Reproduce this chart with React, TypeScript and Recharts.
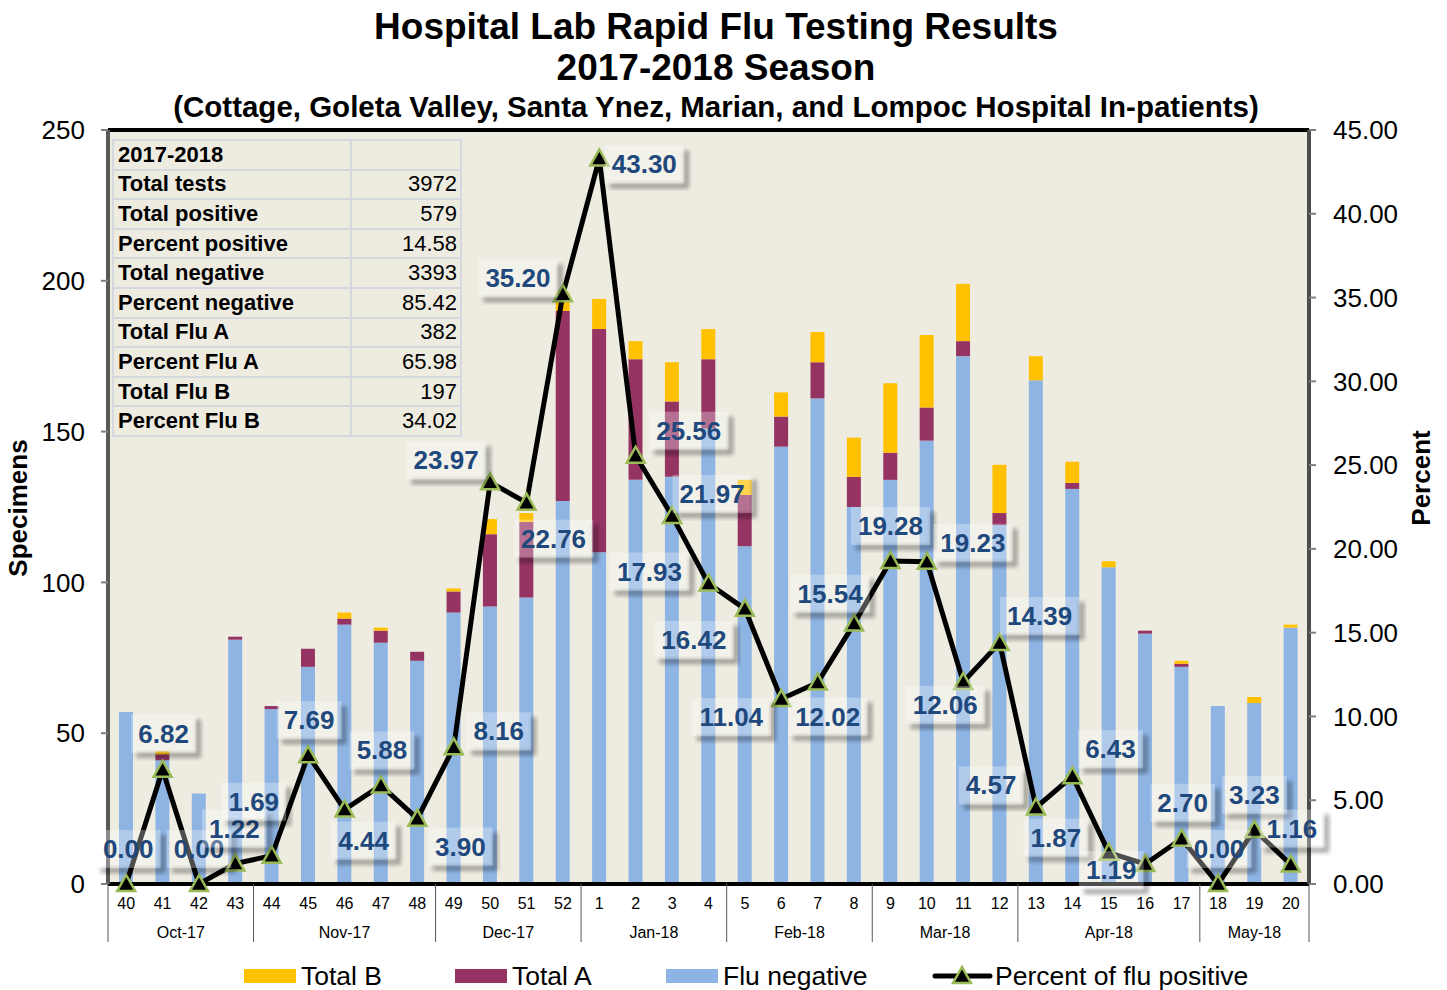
import React from "react";
import { ComposedChart, Bar, Line, XAxis, YAxis, CartesianGrid, ReferenceLine, LabelList } from "recharts";

const weeks = [
  "40", "41", "42", "43", "44", "45", "46", "47", "48", "49", "50", "51", "52",
  "1", "2", "3", "4", "5", "6", "7", "8", "9", "10", "11", "12", "13", "14", "15", "16", "17", "18", "19", "20",
];
const monthNames = ["Oct-17", "Nov-17", "Dec-17", "Jan-18", "Feb-18", "Mar-18", "Apr-18", "May-18"];
const monthWeekCounts = [4, 5, 4, 4, 4, 4, 5, 3];

const fluNegative = [57, 41, 30, 81, 58, 72, 86, 80, 74, 90, 92, 95, 127, 110, 134, 135, 151, 112, 145, 161, 125, 134, 147, 175, 119, 167, 131, 105, 83, 72, 59, 60, 85];
const totalA = [0, 2, 0, 1, 1, 6, 2, 4, 3, 7, 24, 25, 63, 74, 40, 25, 23, 17, 10, 12, 10, 9, 11, 5, 4, 0, 2, 0, 1, 1, 0, 0, 0];
const totalB = [0, 1, 0, 0, 0, 0, 2, 1, 0, 1, 5, 3, 6, 10, 6, 13, 10, 5, 8, 10, 13, 23, 24, 19, 16, 8, 7, 2, 0, 1, 0, 2, 1];
const pctPositive = [0.0, 6.82, 0.0, 1.22, 1.69, 7.69, 4.44, 5.88, 3.9, 8.16, 23.97, 22.76, 35.2, 43.3, 25.56, 21.97, 17.93, 16.42, 11.04, 12.02, 15.54, 19.28, 19.23, 12.06, 14.39, 4.57, 6.43, 1.87, 1.19, 2.7, 0.0, 3.23, 1.16];

const leftTicks = [0, 50, 100, 150, 200, 250];
const rightTicks = [0, 5, 10, 15, 20, 25, 30, 35, 40, 45];

const summaryLabels = ["2017-2018", "Total tests", "Total positive", "Percent positive", "Total negative", "Percent negative", "Total Flu A", "Percent Flu A", "Total Flu B", "Percent Flu B"];
const summaryValues = ["", "3972", "579", "14.58", "3393", "85.42", "382", "65.98", "197", "34.02"];

// layout
const W = 1447;
const H = 990;
const M = { top: 130, right: 38, bottom: 36, left: 48 };
const LEFT_AXIS_W = 60;
const RIGHT_AXIS_W = 100;
const PLOT_L = M.left + LEFT_AXIS_W;
const PLOT_R = W - M.right - RIGHT_AXIS_W;
const PLOT_B = H - M.bottom - 70;
const BAND = (PLOT_R - PLOT_L) / weeks.length;
const FONT = "'Liberation Sans', Arial, sans-serif";

const BLUE = "#8EB4E3";
const MAROON = "#953463";
const GOLD = "#FFC000";
const LABEL_BLUE = "#1F497D";

// where Excel's data labels were dragged to, relative to each point
const labelShift: [number, number][] = [
  [2, -35], [1, -36], [0, -35], [-1, -35], [-18, -54], [1, -35], [19, 31], [1, -35], [43, 28], [45, -16],
  [-44, -22], [27, 36], [-45, -16], [45, 6], [53, -25], [40, -22], [-59, -12], [-51, 31], [-50, 18], [10, 34],
  [-24, -30], [0, -35], [46, -19], [-18, 23], [40, -27], [-45, -22], [38, -27], [-53, -15], [-34, 6], [1, -36],
  [1, -35], [0, -35], [1, -36],
];

const rows = weeks.map((w, i) => ({
  week: w,
  neg: fluNegative[i],
  a: totalA[i],
  b: totalB[i],
  pct: pctPositive[i],
}));

const monthStart: Record<number, number> = {};
let acc = 0;
monthWeekCounts.forEach((c, g) => {
  monthStart[acc] = g;
  acc += c;
});

function WeekTick({ x, y, payload }: any) {
  return (
    <text x={x} y={y} dy={25} textAnchor="middle" fontSize={16} fontFamily={FONT} fill="#000">
      {payload.value}
    </text>
  );
}

function MonthTick({ x, y, index }: any) {
  const g = monthStart[index];
  if (g === undefined) return <g />;
  const count = monthWeekCounts[g];
  const left = x - BAND / 2;
  const right = x + (count - 0.5) * BAND;
  const last = g === monthWeekCounts.length - 1;
  return (
    <g>
      <line x1={left} x2={left} y1={PLOT_B} y2={PLOT_B + 58} stroke="#595959" strokeWidth={1} />
      {last && <line x1={right} x2={right} y1={PLOT_B} y2={PLOT_B + 58} stroke="#595959" strokeWidth={1} />}
      <text x={(left + right) / 2} y={y} dy={24} textAnchor="middle" fontSize={16} fontFamily={FONT} fill="#000">
        {monthNames[g]}
      </text>
    </g>
  );
}

function TriangleDot({ cx, cy }: any) {
  if (cx == null || cy == null) return <g />;
  return (
    <polygon
      points={`${cx},${cy - 9} ${cx - 9},${cy + 7} ${cx + 9},${cy + 7}`}
      fill="#000"
      stroke="#9BBB59"
      strokeWidth={2.5}
    />
  );
}

function PctLabel(props: any) {
  const { index, value } = props;
  const px = props.x ?? props.viewBox?.x;
  const py = props.y ?? props.viewBox?.y;
  if (px == null || py == null) return <g />;
  const [dx, dy] = labelShift[index] || [0, -35];
  const text = Number(value).toFixed(2);
  const tw = text.split("").reduce((s, ch) => s + (ch === "." ? 7.2 : 14.5), 0);
  const w = tw + 14;
  const h = 38;
  const cx = px + dx;
  const cy = py + dy;
  const fid = `lblshadow${index}`;
  return (
    <g>
      <defs>
        <filter id={fid} x="-50%" y="-50%" width="200%" height="200%">
          <feGaussianBlur stdDeviation={2} />
        </filter>
      </defs>
      <rect x={cx - w / 2 + 5} y={cy + h / 2} width={w} height={5} fill="#000" opacity={0.35} filter={`url(#${fid})`} />
      <rect x={cx + w / 2} y={cy - h / 2 + 5} width={5} height={h - 5} fill="#000" opacity={0.35} filter={`url(#${fid})`} />
      <rect x={cx - w / 2} y={cy - h / 2} width={w} height={h} fill="#FFFFFF" fillOpacity={0.3} />
      <text x={cx} y={cy} dy={9} textAnchor="middle" fontSize={26} fontWeight="bold" fontFamily={FONT} fill={LABEL_BLUE}>
        {text}
      </text>
    </g>
  );
}

function SummaryTable() {
  return (
    <table
      style={{
        position: "absolute",
        left: 112,
        top: 139,
        width: 350,
        borderCollapse: "collapse",
        fontFamily: FONT,
        fontSize: 22,
        background: "#EEECE1",
      }}
    >
      <tbody>
        {summaryLabels.map((lab, i) => (
          <tr key={lab} style={{ height: 29.6 }}>
            <td style={{ border: "2px solid #D5D8DE", fontWeight: "bold", padding: "0 4px", width: 228, lineHeight: "24px" }}>{lab}</td>
            <td style={{ border: "2px solid #D5D8DE", textAlign: "right", padding: "0 3px", lineHeight: "24px" }}>{summaryValues[i]}</td>
          </tr>
        ))}
      </tbody>
    </table>
  );
}

function LegendBar() {
  const item = (left: number, color: string, textLeft: number, label: string) => (
    <React.Fragment key={label}>
      <div style={{ position: "absolute", left, top: 969, width: 52, height: 14, background: color }} />
      <div style={{ position: "absolute", left: textLeft, top: 962, fontSize: 26.5, lineHeight: "28px", fontFamily: FONT, whiteSpace: "nowrap" }}>{label}</div>
    </React.Fragment>
  );
  return (
    <>
      {item(244, GOLD, 301, "Total B")}
      {item(455, MAROON, 512, "Total A")}
      {item(666, BLUE, 723, "Flu negative")}
      <svg style={{ position: "absolute", left: 930, top: 960 }} width={64} height={30}>
        <line x1={5} x2={60} y1={16} y2={16} stroke="#000" strokeWidth={5} strokeLinecap="round" />
        <polygon points="32,7 23,23 41,23" fill="#000" stroke="#9BBB59" strokeWidth={2.5} />
      </svg>
      <div style={{ position: "absolute", left: 995, top: 962, fontSize: 26.5, lineHeight: "28px", fontFamily: FONT, whiteSpace: "nowrap" }}>
        Percent of flu positive
      </div>
    </>
  );
}

export default function App() {
  return (
    <div style={{ position: "absolute", left: 0, top: 0, width: W, height: H, background: "#fff", fontFamily: FONT }}>
      <div style={{ position: "absolute", left: 0, width: 1432, top: 8, textAlign: "center", fontWeight: "bold", fontSize: 37, lineHeight: "38px" }}>
        Hospital Lab Rapid Flu Testing Results
      </div>
      <div style={{ position: "absolute", left: 0, width: 1432, top: 49, textAlign: "center", fontWeight: "bold", fontSize: 37, lineHeight: "38px" }}>
        2017-2018 Season
      </div>
      <div style={{ position: "absolute", left: 0, width: 1432, top: 92, textAlign: "center", fontWeight: "bold", fontSize: 29.5, lineHeight: "30px" }}>
        (Cottage, Goleta Valley, Santa Ynez, Marian, and Lompoc Hospital In-patients)
      </div>

      <ComposedChart width={W} height={H} data={rows} margin={M} barSize={14}>
        <CartesianGrid horizontal={false} vertical={false} fill="#EEECE1" stroke="none" />
        <XAxis
          dataKey="week"
          interval={0}
          height={30}
          tickSize={0}
          tickMargin={0}
          axisLine={{ stroke: "#000", strokeWidth: 4 }}
          tickLine={false}
          tick={(p: any) => <WeekTick {...p} />}
        />
        <XAxis
          xAxisId="month"
          dataKey="week"
          interval={0}
          height={40}
          tickSize={0}
          tickMargin={0}
          axisLine={false}
          tickLine={false}
          tick={(p: any) => <MonthTick {...p} />}
        />
        <YAxis
          yAxisId="left"
          width={LEFT_AXIS_W}
          domain={[0, 250]}
          ticks={leftTicks}
          tickSize={7}
          tickMargin={16}
          axisLine={{ stroke: "#595959", strokeWidth: 4 }}
          tickLine={{ stroke: "#808080", strokeWidth: 2 }}
          tick={{ fontSize: 26, fill: "#000", fontFamily: FONT }}
        />
        <YAxis
          yAxisId="right"
          orientation="right"
          width={RIGHT_AXIS_W}
          domain={[0, 45]}
          ticks={rightTicks}
          tickFormatter={(v: number) => v.toFixed(2)}
          tickSize={7}
          tickMargin={17}
          axisLine={{ stroke: "#4D4D4D", strokeWidth: 4 }}
          tickLine={{ stroke: "#808080", strokeWidth: 2 }}
          tick={{ fontSize: 26, fill: "#000", fontFamily: FONT }}
        />
        <ReferenceLine yAxisId="left" y={250} stroke="#000" strokeWidth={4} />
        <Bar yAxisId="left" dataKey="neg" stackId="s" fill={BLUE} isAnimationActive={false} />
        <Bar yAxisId="left" dataKey="a" stackId="s" fill={MAROON} isAnimationActive={false} />
        <Bar yAxisId="left" dataKey="b" stackId="s" fill={GOLD} isAnimationActive={false} />
        <Line
          yAxisId="right"
          dataKey="pct"
          type="linear"
          stroke="#000"
          strokeWidth={5}
          dot={(p: any) => <TriangleDot key={`d${p.index}`} {...p} />}
          activeDot={false}
          isAnimationActive={false}
        >
          <LabelList dataKey="pct" content={(p: any) => <PctLabel {...p} />} />
        </Line>
      </ComposedChart>

      <SummaryTable />

      <div style={{ position: "absolute", left: 18, top: 508, transform: "translate(-50%, -50%) rotate(-90deg)", fontWeight: "bold", fontSize: 26, whiteSpace: "nowrap" }}>
        Specimens
      </div>
      <div style={{ position: "absolute", left: 1421, top: 478, transform: "translate(-50%, -50%) rotate(-90deg)", fontWeight: "bold", fontSize: 26, whiteSpace: "nowrap" }}>
        Percent
      </div>

      <LegendBar />
    </div>
  );
}
